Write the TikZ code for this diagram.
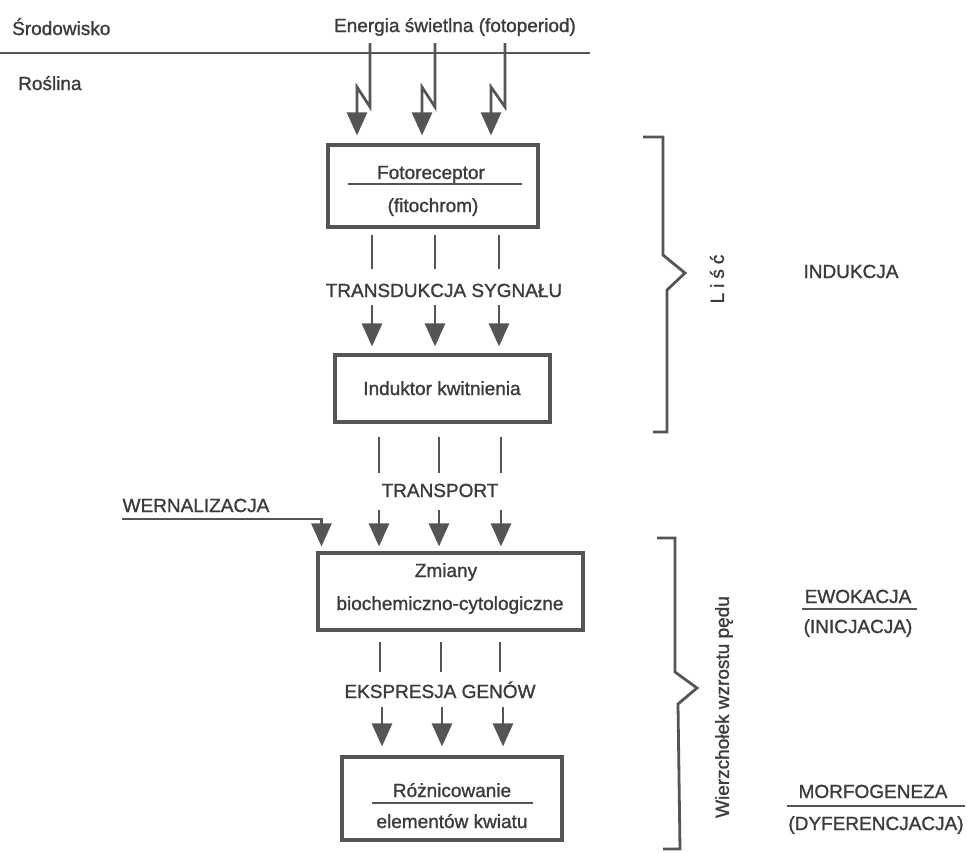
\documentclass[tikz,border=0pt]{standalone}
\usepackage{fontspec}
\setmainfont{Liberation Sans}[FakeBold=1.2]
\usetikzlibrary{arrows.meta}
\definecolor{ink}{HTML}{555555}
\definecolor{txt}{HTML}{3C3C3C}
\tikzset{
  lbl/.style={font=\fontsize{19}{23}\selectfont, text=txt, inner sep=0pt, anchor=base},
  stagebox/.style={draw=ink, line width=3.1pt, inner sep=0pt},
  conn/.style={draw=ink, line width=2.7pt},
  arr/.style={conn, -{Triangle[width=20pt,length=23pt]}},
  rule/.style={draw=ink, line width=2.7pt},
  brace/.style={draw=ink, line width=2.8pt, line join=miter},
}
\begin{document}
\begin{tikzpicture}[x=1pt,y=-1pt]
\path[use as bounding box, fill=white] (0,0) rectangle (967,852);

% environment / plant boundary
\node[lbl, anchor=base west] (env) at (12,35) {Środowisko};
\node[lbl, anchor=base west] (plant) at (18,90) {Roślina};
\node[lbl] (light) at (455,32) {Energia świetlna (fotoperiod)};
\coordinate (edgeL) at (0,53);
\coordinate (edgeR) at (590,53);
\draw[rule] (edgeL) -- (edgeR);

% stage boxes
\node[stagebox, minimum width=210pt, minimum height=82pt] (fr) at (433,186) {};
\node[stagebox, minimum width=215pt, minimum height=67pt] (ind) at (442.5,388.5) {};
\node[stagebox, minimum width=265pt, minimum height=77pt] (zm) at (450.5,591.5) {};
\node[stagebox, minimum width=220pt, minimum height=83pt] (rz) at (452,798.5) {};

% box contents
\node[lbl] (fr1) at (431,179) {Fotoreceptor};
\draw[rule] (348,184) -- (522,184);
\node[lbl] (fr2) at (433,212) {(fitochrom)};
\node[lbl] (indt) at (442,395) {Induktor kwitnienia};
\node[lbl] (zm1) at (446,577) {Zmiany};
\node[lbl] (zm2) at (450,610) {biochemiczno-cytologiczne};
\node[lbl] (rz1) at (452,797) {Różnicowanie};
\draw[rule] (372,803) -- (533,803);
\node[lbl] (rz2) at (452,828) {elementów kwiatu};

% labels between the boxes
\node[lbl] (td) at (444,297) {TRANSDUKCJA SYGNAŁU};
\node[lbl] (tr) at (440,497) {TRANSPORT};
\node[lbl] (ex) at (440,698) {EKSPRESJA GENÓW};
\node[lbl] (wern) at (196,512) {WERNALIZACJA};

% light signals (zig-zag arrows)
\foreach \a/\b in {370/357, 435/422, 505/491}
  \draw[arr, line join=miter, shorten >=8pt]
    (\a,43) -- (\a,107) -- (\b,87) -- (\b,0 |- fr.north);

% photoreceptor -> signal transduction -> inductor
\foreach \x in {372,435,499} {
  \draw[conn, shorten <=6pt, shorten >=15pt] (\x,0 |- fr.south) -- (\x,0 |- td.north);
  \draw[arr, shorten <=8pt, shorten >=7pt] (\x,0 |- td.south) -- (\x,0 |- ind.north);
}

% inductor -> transport -> biochemical changes
\foreach \x in {379,439,501} {
  \draw[conn, shorten <=13pt, shorten >=11pt] (\x,0 |- ind.south) -- (\x,0 |- tr.north);
  \draw[arr, shorten <=13pt, shorten >=5pt] (\x,0 |- tr.south) -- (\x,0 |- zm.north);
}

% vernalization input
\draw[arr, shorten >=5pt] ([yshift=-7pt]wern.base west) -| ([xshift=5pt]zm.north west);

% biochemical changes -> gene expression -> differentiation
\foreach \x/\y in {380/382, 441/442, 500/503} {
  \draw[conn, shorten <=10pt, shorten >=9pt] (\x,0 |- zm.south) -- (\x,0 |- ex.north);
  \draw[arr, shorten <=9pt, shorten >=9pt] (\y,0 |- ex.south) -- (\y,0 |- rz.north);
}

% organ brackets
\draw[brace] (643,137) -- (663,137) -- (663,255) -- (685,273) -- (667,290) -- (667,432) -- (653,432);
\node[lbl, anchor=center, rotate=90] (lisc) at (717,279) {L\hspace{5pt}i\hspace{5pt}ś\hspace{5pt}ć};
\draw[brace] (657,538) -- (675,538) -- (675,672) -- (697,688) -- (678,704) -- (680,849) -- (663,849);
\node[lbl, anchor=center, rotate=90] (apex) at (724,707) {Wierzchołek wzrostu pędu};

% phase names
\node[lbl] (induk) at (851,278) {INDUKCJA};
\node[lbl] (ewok) at (858,603) {EWOKACJA};
\draw[rule] (802,609) -- (917,609);
\node[lbl] (inic) at (858,633) {(INICJACJA)};
\node[lbl] (morf) at (873,798) {MORFOGENEZA};
\draw[rule] (787,806) -- (965,806);
\node[lbl] (dyf) at (876,830) {(DYFERENCJACJA)};
\end{tikzpicture}
\end{document}
